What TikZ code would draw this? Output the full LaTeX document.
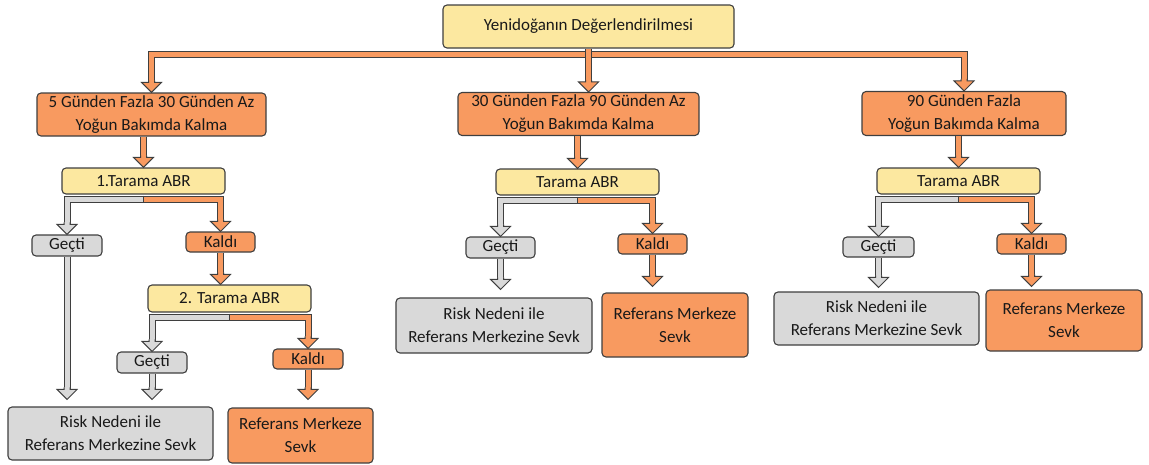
\documentclass[tikz,border=0pt]{standalone}
\usepackage{fontspec}
\setmainfont{Carlito}
\usetikzlibrary{calc}
\definecolor{orangeC}{HTML}{F89A60}
\definecolor{yellowC}{HTML}{FCE8A0}
\definecolor{grayC}{HTML}{D9D9D9}
\definecolor{edgeC}{HTML}{3F3F3F}
\tikzset{
  box/.style={draw=edgeC, line width=1.1pt, rounded corners=4pt, align=center, inner sep=0pt, font=\fontsize{17}{23}\selectfont, text=black!90},
  obox/.style={box, fill=orangeC},
  ybox/.style={box, fill=yellowC},
  gbox/.style={box, fill=grayC},
  shaft/.style={draw=edgeC, line width=1pt, double=#1, double distance=5pt},
  ahead/.pic={\filldraw[fill=#1, draw=edgeC, line width=1pt] (-3,-12) -- (-3,-10) -- (-10,-10) -- (0,0) -- (10,-10) -- (3,-10) -- (3,-12);},
  tick/.style={draw=edgeC, line width=1pt}
}
\newcommand\varr[3]{\draw[shaft=#1] (#2) -- ($(#3)+(0,-10.5)$); \pic at (#3) {ahead=#1};}
\newcommand\earr[3]{\draw[shaft=#1] (#2) -| ($(#3)+(0,-10.5)$); \pic at (#3) {ahead=#1};}
\begin{document}
\begin{tikzpicture}[x=1pt, y=-1pt]
\useasboundingbox (0,0) rectangle (1149,464);
% nodes
\node[ybox, minimum width=291, minimum height=43] (top) at (588.5,26.5) {Yenidoğanın Değerlendirilmesi};
\node[obox, minimum width=229, minimum height=43] (b1) at (151.5,114.5) {5 Günden Fazla 30 Günden Az\\Yoğun Bakımda Kalma};
\node[obox, minimum width=241, minimum height=43] (b2) at (578.5,114) {30 Günden Fazla 90 Günden Az\\Yoğun Bakımda Kalma};
\node[obox, minimum width=204, minimum height=44] (b3) at (964,113.5) {90 Günden Fazla\\Yoğun Bakımda Kalma};
% left column
\node[ybox, minimum width=163, minimum height=26] (t1) at (143.5,181) {1.Tarama ABR};
\node[gbox, minimum width=70, minimum height=21] (g1) at (67,245.5) {Geçti};
\node[obox, minimum width=69, minimum height=20] (k1) at (220.5,242) {Kaldı};
\node[ybox, minimum width=163, minimum height=27] (t2) at (229.5,298.5) {2. Tarama ABR};
\node[gbox, minimum width=70, minimum height=21] (g2) at (152,362.5) {Geçti};
\node[obox, minimum width=70, minimum height=20] (k2) at (308,359) {Kaldı};
\node[gbox, minimum width=205, minimum height=53] (r1) at (110.5,433.5) {Risk Nedeni ile\\Referans Merkezine Sevk};
\node[obox, minimum width=145, minimum height=55] (f1) at (300.5,435.5) {Referans Merkeze\\Sevk};
% middle column
\node[ybox, minimum width=163, minimum height=26] (t3) at (577.5,182) {Tarama ABR};
\node[gbox, minimum width=69, minimum height=21] (g3) at (500.5,247.5) {Geçti};
\node[obox, minimum width=69, minimum height=20] (k3) at (652.5,244) {Kaldı};
\node[gbox, minimum width=196, minimum height=55] (r3) at (494,325.5) {Risk Nedeni ile\\Referans Merkezine Sevk};
\node[obox, minimum width=146, minimum height=64] (f3) at (675,325) {Referans Merkeze\\Sevk};
% right column
\node[ybox, minimum width=163, minimum height=26] (t4) at (958.5,181) {Tarama ABR};
\node[gbox, minimum width=71, minimum height=20] (g4) at (878.5,247) {Geçti};
\node[obox, minimum width=69, minimum height=20] (k4) at (1031.5,244) {Kaldı};
\node[gbox, minimum width=205, minimum height=53] (r4) at (876.5,318.5) {Risk Nedeni ile\\Referans Merkezine Sevk};
\node[obox, minimum width=156, minimum height=61] (f4) at (1064,320.5) {Referans Merkeze\\Sevk};
% top connectors
\coordinate (tb) at ($(top.south)+(0,5.5)$);
\earr{orangeC}{tb}{b1.north}
\earr{orangeC}{tb}{b3.north}
\varr{orangeC}{top.south}{top.south |- b2.north}
% level 1 to tarama
\varr{orangeC}{b1.south -| t1.north}{t1.north}
\varr{orangeC}{b2.south -| t3.north}{t3.north}
\varr{orangeC}{b3.south -| t4.north}{t4.north}
% splits
\foreach \t/\g/\k in {t1/g1/k1, t2/g2/k2, t3/g3/k3, t4/g4/k4}{
  \coordinate (s\t) at ($(\t.south)+(0,4.5)$);
  \earr{grayC}{s\t}{\g.north}
  \earr{orangeC}{s\t}{\k.north}
  \draw[tick] ($(s\t)+(0,-3.5)$) -- ($(s\t)+(0,3.5)$);
}
% lower connectors
\varr{orangeC}{k1.south}{k1.south |- t2.north}
\coordinate (p1) at ($(g1.south |- r1.north)+(0,-7)$);
\varr{grayC}{g1.south}{p1}
\coordinate (p2) at ($(g2.south |- r1.north)+(0,-7)$);
\varr{grayC}{g2.south}{p2}
\coordinate (p3) at ($(k2.south |- f1.north)+(0,-8)$);
\varr{orangeC}{k2.south}{p3}
\coordinate (p4) at ($(g3.south |- r3.north)+(0,-8)$);
\varr{grayC}{g3.south}{p4}
\coordinate (p5) at ($(k3.south |- f3.north)+(0,-6)$);
\varr{orangeC}{k3.south}{p5}
\coordinate (p6) at ($(g4.south |- r4.north)+(0,-4)$);
\varr{grayC}{g4.south}{p6}
\coordinate (p7) at ($(k4.south |- f4.north)+(0,-3)$);
\varr{orangeC}{k4.south}{p7}
\end{tikzpicture}
\end{document}
